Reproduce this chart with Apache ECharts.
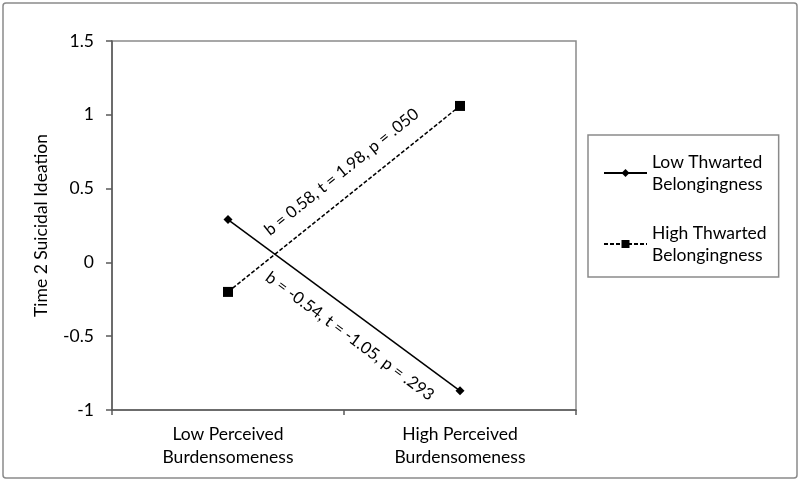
<!DOCTYPE html>
<html>
<head>
<meta charset="utf-8">
<script src="https://cdn.jsdelivr.net/npm/echarts@6/dist/echarts.min.js"></script>
<style>html,body{margin:0;padding:0;background:#fff;}#c{width:800px;height:482px;}</style>
</head>
<body>
<div id="c"></div>
<script>
const categories = ['Low Perceived\nBurdensomeness', 'High Perceived\nBurdensomeness'];
const lowTB = [0.29, -0.87];
const highTB = [-0.20, 1.06];
const seriesNames = ['Low Thwarted\nBelongingness', 'High Thwarted\nBelongingness'];
const lowTBNote = 'b = -0.54, t = -1.05, p = .293';
const highTBNote = 'b = 0.58, t = 1.98, p = .050';
const yTicks = {min: -1, max: 1.5, interval: 0.5};
const yTitle = 'Time 2 Suicidal Ideation';

const FONT = 'Lato';
const FS = 17.5;
const chart = echarts.init(document.getElementById('c'), null, {renderer: 'canvas'});
function slopeLine(vals, text, pos, dist, pad) {
  return {
    silent: true,
    symbol: 'none',
    lineStyle: {color: 'rgba(0,0,0,0)', width: 1, type: 'solid'},
    label: {show: true, position: pos, formatter: text, color: '#000', fontFamily: FONT, fontSize: 16.5, distance: dist, padding: pad},
    data: [[{coord: [0, vals[0]]}, {coord: [1, vals[1]]}]]
  };
}
chart.setOption({
  animation: false,
  textStyle: {fontFamily: FONT},
  graphic: [{type: 'rect', shape: {x: 3, y: 3, width: 794, height: 475, r: 3}, style: {fill: 'none', stroke: '#8a8a8a', lineWidth: 1.5}, z: -1}],
  grid: {left: 112, right: 224, top: 41, bottom: 72, show: true, borderColor: '#8a8a8a', borderWidth: 1.5, backgroundColor: 'transparent'},
  legend: {
    orient: 'vertical', left: 588, top: 135,
    padding: [5, 12, 0, 15],
    itemGap: 5, itemWidth: 43, itemHeight: 10,
    borderColor: '#8a8a8a', borderWidth: 1.5,
    textStyle: {fontFamily: FONT, fontSize: FS, color: '#000', lineHeight: 22, padding: [22, 0, 0, 0]},
    data: seriesNames
  },
  xAxis: {
    type: 'category', data: categories, boundaryGap: true,
    axisLine: {onZero: false, lineStyle: {color: '#595959', width: 1.5}},
    axisTick: {show: true, length: 5, lineStyle: {color: '#595959', width: 1.5}},
    axisLabel: {color: '#000', fontFamily: FONT, fontSize: FS, lineHeight: 23, margin: 13}
  },
  yAxis: {
    type: 'value', min: yTicks.min, max: yTicks.max, interval: yTicks.interval,
    name: yTitle, nameLocation: 'middle', nameGap: 62, nameRotate: 90,
    nameTextStyle: {color: '#000', fontFamily: FONT, fontSize: FS},
    axisLine: {show: true, lineStyle: {color: '#595959', width: 1.5}},
    axisTick: {show: true, length: 6, lineStyle: {color: '#595959', width: 1.5}},
    axisLabel: {color: '#000', fontFamily: FONT, fontSize: FS, margin: 18},
    splitLine: {show: false}
  },
  series: [
    {
      name: seriesNames[0], type: 'line', data: lowTB,
      symbol: 'diamond', symbolSize: 9,
      lineStyle: {color: '#000', width: 1.5, type: 'solid'},
      itemStyle: {color: '#000'},
      markLine: slopeLine(lowTB, lowTBNote, 'insideMiddleBottom', 13, [0, 0, 0, 46])
    },
    {
      name: seriesNames[1], type: 'line', data: highTB,
      symbol: 'rect', symbolSize: 10,
      lineStyle: {color: '#000', width: 1.5, type: [4, 2]},
      itemStyle: {color: '#000'},
      markLine: slopeLine(highTB, highTBNote, 'insideMiddleTop', 14, [0, 0, 0, 30])
    }
  ]
});
</script>
</body>
</html>
